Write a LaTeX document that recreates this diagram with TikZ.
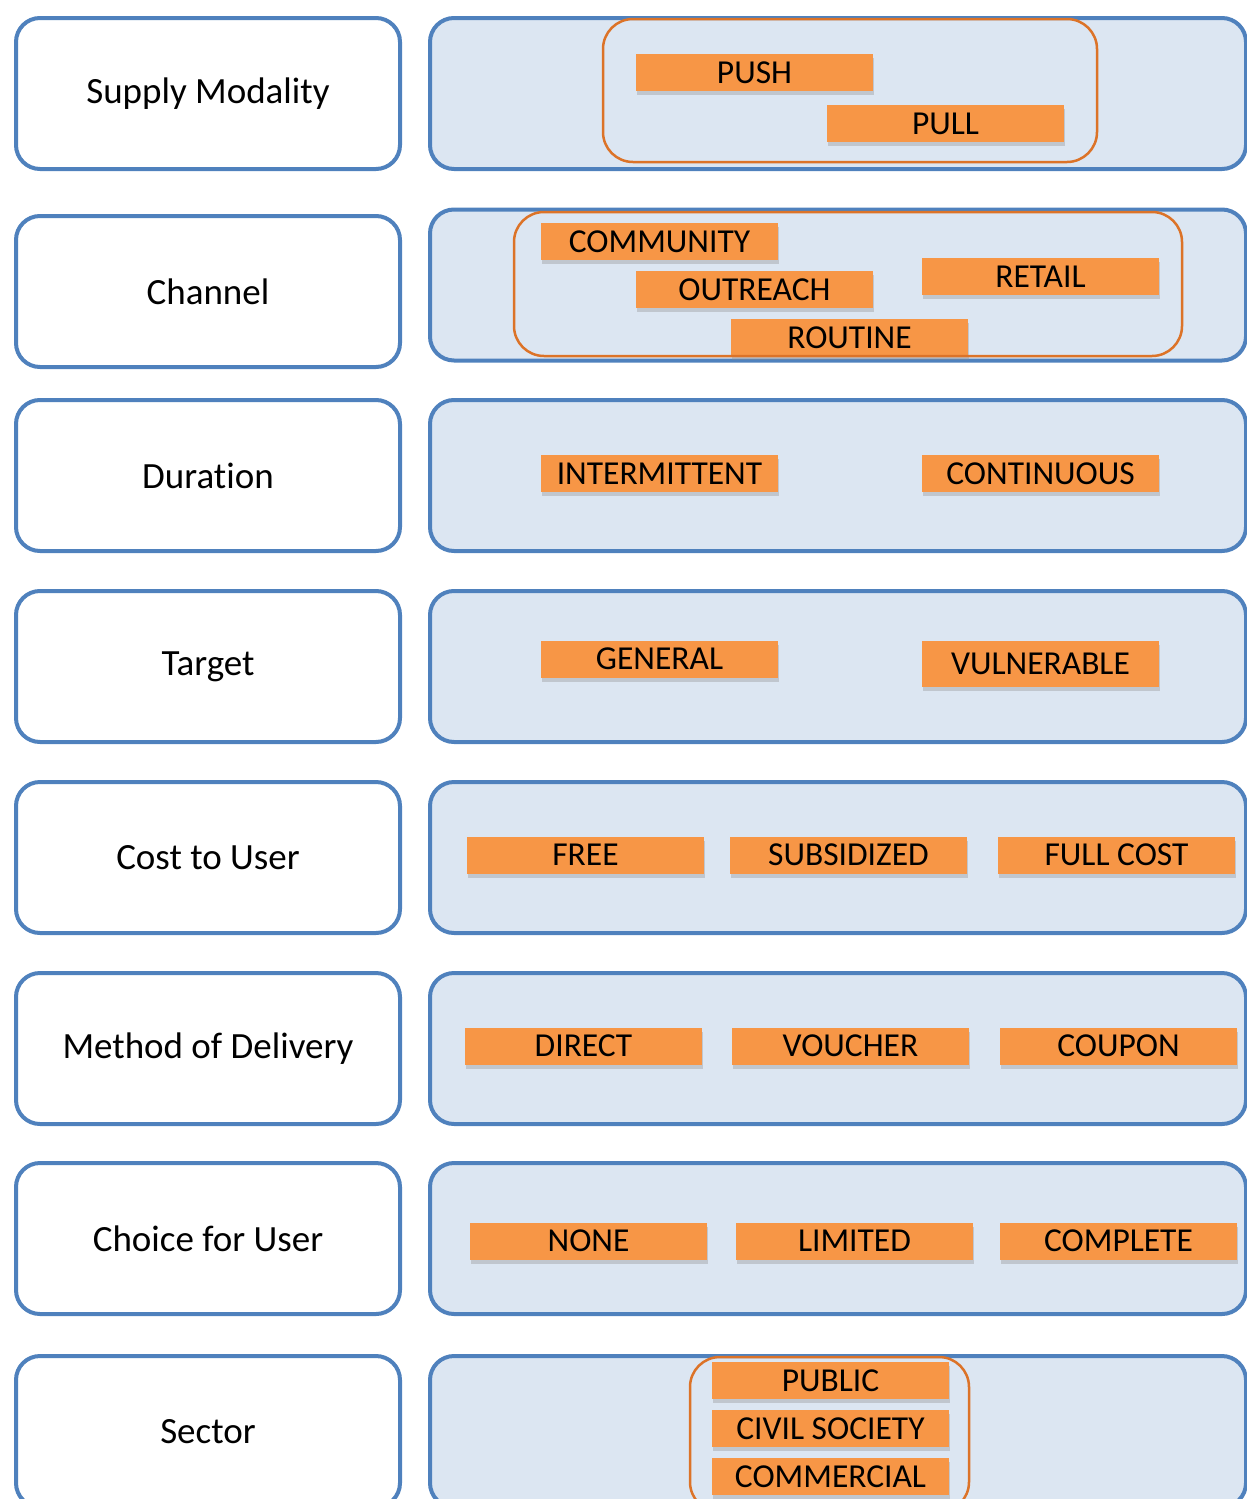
\documentclass[tikz,border=0pt]{standalone}
\usepackage{fontspec}
\setmainfont[Ligatures=NoCommon]{Carlito}
\usetikzlibrary{shadows}
\definecolor{bord}{HTML}{4F81BD}
\definecolor{panel}{HTML}{DCE6F2}
\definecolor{orfill}{HTML}{F79646}
\definecolor{orline}{HTML}{DC7328}
\tikzset{
  leftbox/.style={draw=bord, line width=4pt, fill=white, rounded corners=24pt,
    minimum width=384pt, minimum height=151pt, inner sep=0pt,
    font=\fontsize{37}{40}\selectfont},
  rightpanel/.style={draw=bord, line width=4pt, fill=panel, rounded corners=24pt,
    minimum width=816pt, minimum height=151pt, inner sep=0pt},
  tag/.style={fill=orfill, minimum width=237pt, minimum height=37pt, inner sep=0pt,
    font=\fontsize{33.5}{35}\selectfont,
    drop shadow={shadow xshift=1pt, shadow yshift=-4pt, fill=black!45, opacity=0.35}},
  grouping/.style={draw=orline, line width=2.5pt, rounded corners=30pt}
}
\begin{document}
\begin{tikzpicture}[x=1pt, y=-1pt]
\useasboundingbox (0,0) rectangle (1247,1499);
\clip (0,0) rectangle (1247,1499);

% left category boxes
\node[leftbox] (l1) at (208,93.5) {Supply Modality};
\node[leftbox] (l2) at (208,291.5) {Channel};
\node[leftbox] (l3) at (208,475.5) {Duration};
\node[leftbox] (l4) at (208,666.5) {Target};
\node[leftbox] (l5) at (208,857.5) {Cost to User};
\node[leftbox] (l6) at (208,1048.5) {Method of Delivery};
\node[leftbox] (l7) at (208,1238.5) {Choice for User};
\node[leftbox] (l8) at (208,1431.5) {Sector};

% right panels
\node[rightpanel] (r1) at (838,93.5) {};
\node[rightpanel] (r2) at (838,285) {};
\node[rightpanel] (r3) at (838,475.5) {};
\node[rightpanel] (r4) at (838,666.5) {};
\node[rightpanel] (r5) at (838,857.5) {};
\node[rightpanel] (r6) at (838,1048.5) {};
\node[rightpanel] (r7) at (838,1238.5) {};
\node[rightpanel] (r8) at (838,1431.5) {};

% row 1
\node[tag] (push) at (754.5,72.5) {PUSH};
\node[tag] (pull) at (945.5,123.5) {PULL};
\draw[grouping] (603,19) rectangle (1097,162);

% row 2
\node[tag] (community) at (659.5,241.5) {COMMUNITY};
\node[tag] (outreach) at (754.5,289.5) {OUTREACH};
\node[tag] (routine) at (849.5,337.5) {ROUTINE};
\node[tag] (retail) at (1040.5,276.5) {RETAIL};
\draw[grouping] (514,212) rectangle (1182,356);

% row 3
\node[tag] (intermittent) at (659.5,473.5) {INTERMITTENT};
\node[tag] (continuous) at (1040.5,473.5) {CONTINUOUS};

% row 4
\node[tag] (general) at (659.5,659) {GENERAL};
\node[tag, minimum height=46pt] (vulnerable) at (1040.5,664) {VULNERABLE};

% row 5
\node[tag] (free) at (585.5,855) {FREE};
\node[tag] (subsidized) at (848.5,855) {SUBSIDIZED};
\node[tag] (fullcost) at (1116.5,855) {FULL COST};

% row 6
\node[tag] (direct) at (583.5,1046) {DIRECT};
\node[tag] (voucher) at (850.5,1046) {VOUCHER};
\node[tag] (coupon) at (1118.5,1046) {COUPON};

% row 7
\node[tag] (none) at (588.5,1241) {NONE};
\node[tag] (limited) at (854.5,1241) {LIMITED};
\node[tag] (complete) at (1118.5,1241) {COMPLETE};

% row 8
\node[tag] (public) at (830.5,1380.5) {PUBLIC};
\node[tag] (civil) at (830.5,1428.5) {CIVIL SOCIETY};
\node[tag] (commercial) at (830.5,1476.5) {COMMERCIAL};
\draw[grouping] (690,1357) rectangle (969,1512);
\end{tikzpicture}
\end{document}
